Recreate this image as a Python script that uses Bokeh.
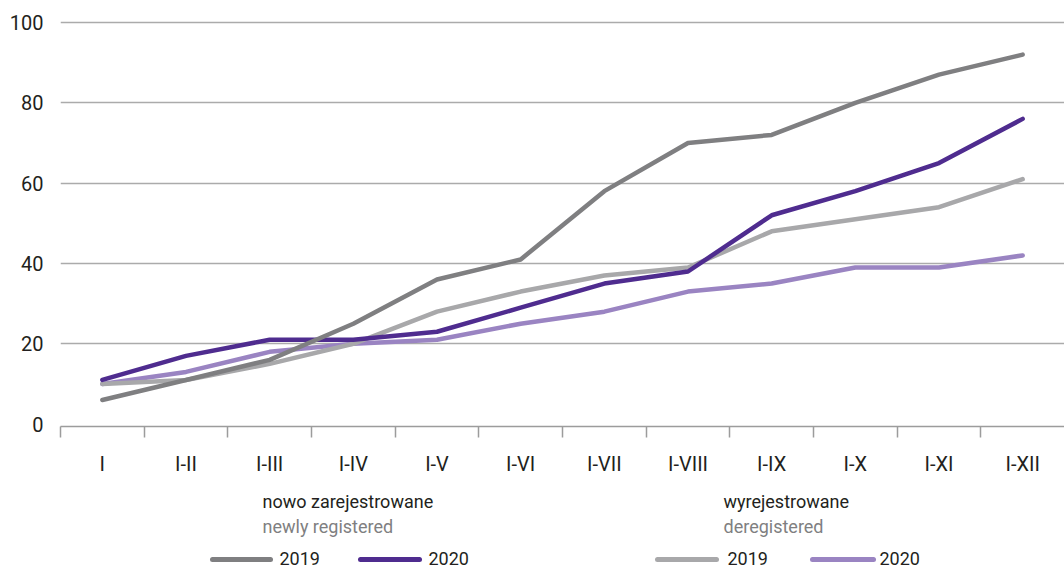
from bokeh.plotting import figure
from bokeh.layouts import column
from bokeh.models import Range1d, FixedTicker
from bokeh.core.properties import value
from bokeh.embed import file_html
from bokeh.resources import INLINE

# ---- data ----
periods = ["I", "I-II", "I-III", "I-IV", "I-V", "I-VI", "I-VII", "I-VIII", "I-IX", "I-X", "I-XI", "I-XII"]
new_2019 = [6, 11, 16, 25, 36, 41, 58, 70, 72, 80, 87, 92]
new_2020 = [11, 17, 21, 21, 23, 29, 35, 38, 52, 58, 65, 76]
dereg_2019 = [10, 11, 15, 20, 28, 33, 37, 39, 48, 51, 54, 61]
dereg_2020 = [10, 13, 18, 20, 21, 25, 28, 33, 35, 39, 39, 42]
y_ticks = [0, 20, 40, 60, 80, 100]

group_titles = ["nowo zarejestrowane", "wyrejestrowane"]
group_subtitles = ["newly registered", "deregistered"]
years = ["2019", "2020"]

C_NEW19 = "#7f7f81"
C_NEW20 = "#4f2c8f"
C_DER19 = "#a8a8aa"
C_DER20 = "#9a84c2"

FONT = "Roboto"
TXT = "#231f20"
LEFT = 60

n = len(periods)
xs = [i + 0.5 for i in range(n)]

p = figure(width=1064, height=478, output_backend="svg", toolbar_location=None,
           x_range=Range1d(0, n), y_range=Range1d(-0.59, 100.49),
           min_border_left=LEFT, min_border_right=0, min_border_top=20, min_border_bottom=49)
p.outline_line_color = None
p.background_fill_color = "white"
p.border_fill_color = "white"

# lines (bottom to top)
for ys, col in [(dereg_2020, C_DER20), (dereg_2019, C_DER19), (new_2020, C_NEW20), (new_2019, C_NEW19)]:
    p.line(xs, ys, line_color=col, line_width=4.5, line_cap="round", line_join="round")

# x axis
p.xaxis.ticker = FixedTicker(ticks=xs, minor_ticks=list(range(n)))
p.xaxis.major_label_overrides = {x: lab for x, lab in zip(xs, periods)}
p.xaxis.major_tick_out = 0
p.xaxis.major_tick_in = 0
p.xaxis.minor_tick_out = 11
p.xaxis.minor_tick_in = 0
p.xaxis.minor_tick_line_color = "#9c9c9c"
p.xaxis.minor_tick_line_width = 1.5
p.xaxis.axis_line_color = "#9c9c9c"
p.xaxis.axis_line_width = 1.5
p.xaxis.major_label_text_font = FONT
p.xaxis.major_label_text_font_size = "20px"
p.xaxis.major_label_text_color = TXT
p.xaxis.major_label_standoff = 14

# y axis
p.yaxis.ticker = FixedTicker(ticks=y_ticks)
p.yaxis.axis_line_color = None
p.yaxis.major_tick_out = 0
p.yaxis.major_tick_in = 0
p.yaxis.minor_tick_line_color = None
p.yaxis.major_label_text_font = FONT
p.yaxis.major_label_text_font_size = "20px"
p.yaxis.major_label_text_color = TXT
p.yaxis.major_label_standoff = 17

p.xgrid.grid_line_color = None
p.ygrid.ticker = FixedTicker(ticks=y_ticks[1:])
p.ygrid.grid_line_color = "#ababab"
p.ygrid.grid_line_width = 1.5

# ---- legend figure (page-pixel coordinates, same left border as the chart) ----
lg = figure(width=1064, height=90, output_backend="svg", toolbar_location=None,
            x_range=Range1d(LEFT, 1064), y_range=Range1d(90, 0),
            x_axis_location=None, y_axis_location=None,
            min_border_left=LEFT, min_border_right=0, min_border_top=0, min_border_bottom=0)
lg.grid.visible = False
lg.outline_line_color = None
lg.background_fill_color = "white"
lg.border_fill_color = "white"

groups = [
    dict(title_x=262, line_x=[(212, 270), (360, 419)], text_x=[279, 428], cols=[C_NEW19, C_NEW20]),
    dict(title_x=723, line_x=[(657, 716), (812, 873)], text_x=[727, 879], cols=[C_DER19, C_DER20]),
]
for gi, g in enumerate(groups):
    lg.text([g["title_x"]], [23], text=[group_titles[gi]], text_font=value(FONT),
            text_font_size="18px", text_color=TXT, text_baseline="middle", text_align="left")
    lg.text([g["title_x"]], [48], text=[group_subtitles[gi]], text_font=value(FONT),
            text_font_size="18px", text_color="#7f7f81", text_baseline="middle", text_align="left")
    for k in range(2):
        x0, x1 = g["line_x"][k]
        lg.line([x0, x1], [81, 81], line_color=g["cols"][k], line_width=5, line_cap="round")
        lg.text([g["text_x"][k]], [80], text=[years[k]], text_font=value(FONT),
                text_font_size="18px", text_color=TXT, text_baseline="middle", text_align="left")

layout = column(p, lg, spacing=0)
open("out.html", "w").write(file_html(layout, INLINE))
